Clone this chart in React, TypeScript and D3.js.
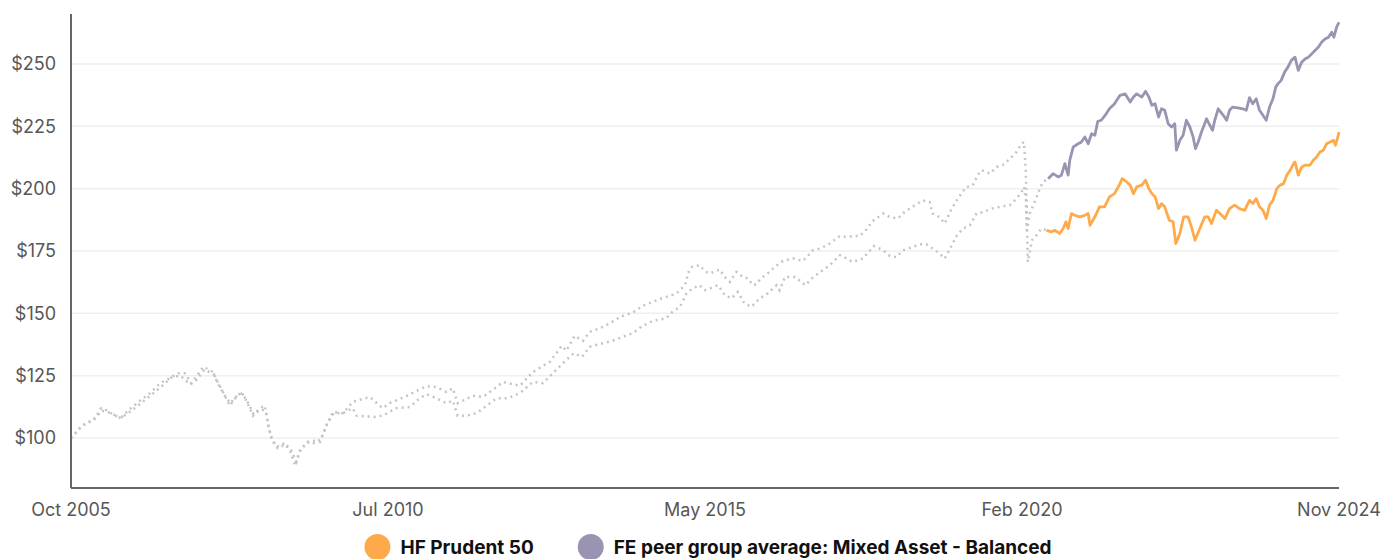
import * as d3 from 'd3';
import { useRef, useEffect } from 'react';

type Pt = [string, number];

// simulated history (grey dotted)
const hfSim: Pt[] = [
  ['2005-10-01', 100], ['2005-11-19', 104], ['2005-12-25', 106], ['2006-02-01', 107], ['2006-03-16', 112],
  ['2006-04-21', 111], ['2006-05-28', 109], ['2006-07-06', 108.4], ['2006-08-10', 111], ['2006-10-15', 115],
  ['2006-12-09', 118], ['2007-02-03', 122], ['2007-03-28', 124], ['2007-05-10', 126], ['2007-06-18', 126],
  ['2007-07-24', 122], ['2007-08-21', 124.6], ['2007-09-28', 128.6], ['2007-11-19', 126.6], ['2007-12-16', 122.6],
  ['2008-01-15', 118.5], ['2008-02-21', 113], ['2008-03-28', 116.5], ['2008-04-25', 118.5], ['2008-05-22', 115],
  ['2008-06-28', 109], ['2008-08-04', 112], ['2008-09-01', 113], ['2008-09-19', 105], ['2008-10-07', 100],
  ['2008-11-04', 96.5], ['2008-12-19', 98], ['2009-01-19', 94.5], ['2009-02-15', 89], ['2009-03-13', 95],
  ['2009-04-19', 98], ['2009-05-22', 99], ['2009-07-01', 98.5], ['2009-08-06', 105], ['2009-09-10', 110.5],
  ['2009-11-04', 110], ['2009-12-28', 114.5], ['2010-04-01', 116.5], ['2010-06-10', 112], ['2010-07-19', 114],
  ['2010-10-19', 116.8], ['2011-01-01', 119.6], ['2011-02-07', 120.8], ['2011-04-01', 120.5], ['2011-05-27', 118.5],
  ['2011-07-01', 120], ['2011-07-28', 114], ['2011-08-25', 115], ['2011-10-19', 117], ['2011-12-13', 116.5],
  ['2012-02-27', 120.5], ['2012-04-01', 122.5], ['2012-07-04', 121], ['2012-09-13', 126.5], ['2012-12-16', 130.6],
  ['2013-02-19', 137], ['2013-03-16', 135], ['2013-05-01', 141], ['2013-06-16', 139], ['2013-07-22', 142.6],
  ['2013-09-16', 144], ['2013-11-10', 146], ['2014-01-06', 148.6], ['2014-03-16', 150.3], ['2014-05-10', 153],
  ['2014-07-04', 154.6], ['2014-08-22', 156], ['2014-10-06', 157], ['2014-11-12', 158], ['2014-12-10', 160],
  ['2015-01-06', 162.6], ['2015-01-12', 166], ['2015-02-04', 168.6], ['2015-03-19', 169.3], ['2015-04-16', 167],
  ['2015-05-13', 166], ['2015-06-19', 167], ['2015-07-07', 167.6], ['2015-08-04', 164.6], ['2015-09-01', 162.6],
  ['2015-10-07', 166.6], ['2015-11-12', 164.6], ['2015-12-09', 164], ['2016-01-06', 161.3], ['2016-01-26', 161.7],
  ['2016-02-18', 164], ['2016-03-27', 166], ['2016-05-04', 168.6], ['2016-06-19', 171], ['2016-08-13', 172],
  ['2016-10-07', 171], ['2016-12-01', 175.3], ['2017-01-10', 176], ['2017-03-04', 178], ['2017-04-28', 181],
  ['2017-06-04', 180.6], ['2017-07-07', 181], ['2017-08-16', 181], ['2017-09-22', 183.7], ['2017-10-25', 187],
  ['2017-12-22', 190], ['2018-01-28', 188.6], ['2018-03-13', 188], ['2018-04-18', 190.6], ['2018-05-29', 192.6],
  ['2018-07-28', 195.3], ['2018-09-04', 194.6], ['2018-09-20', 190], ['2018-10-28', 188.6], ['2018-11-25', 186],
  ['2018-12-12', 188.6], ['2019-01-03', 192], ['2019-02-05', 196], ['2019-03-22', 200.6], ['2019-04-28', 201.3],
  ['2019-05-25', 205.3], ['2019-06-16', 207.4], ['2019-08-01', 206], ['2019-09-07', 208.7], ['2019-10-10', 209.4],
  ['2019-11-19', 212], ['2019-12-25', 214.7], ['2020-01-22', 218], ['2020-02-04', 218.7], ['2020-02-14', 207],
  ['2020-02-19', 192.6], ['2020-02-25', 170.6], ['2020-03-19', 179.3], ['2020-04-13', 181.3], ['2020-05-10', 184],
  ['2020-06-07', 183.3],
];

const peerSim: Pt[] = [
  ['2005-10-01', 100], ['2005-12-01', 105], ['2006-02-10', 108], ['2006-03-20', 111], ['2006-05-10', 110],
  ['2006-07-01', 108], ['2006-08-20', 110.5], ['2006-10-20', 114], ['2006-12-20', 117.5], ['2007-02-15', 121],
  ['2007-04-10', 124.5], ['2007-05-25', 125], ['2007-07-20', 121.5], ['2007-08-25', 123.5], ['2007-10-05', 127.5],
  ['2007-11-25', 125.5], ['2007-12-20', 121.5], ['2008-01-20', 117.5], ['2008-02-25', 114], ['2008-04-01', 117],
  ['2008-04-30', 118], ['2008-06-01', 114], ['2008-07-01', 109.5], ['2008-08-10', 111.5], ['2008-09-05', 111],
  ['2008-09-25', 103.5], ['2008-10-12', 99], ['2008-11-10', 96], ['2008-12-25', 97.5], ['2009-01-25', 95],
  ['2009-02-20', 90.5], ['2009-03-20', 96], ['2009-04-25', 98.5], ['2009-05-28', 98], ['2009-07-05', 99.5],
  ['2009-08-10', 106], ['2009-09-15', 110], ['2009-11-04', 110], ['2009-12-28', 112], ['2010-01-18', 109],
  ['2010-04-28', 108.5], ['2010-06-10', 109], ['2010-08-25', 112], ['2010-11-07', 112.5], ['2011-01-01', 116],
  ['2011-02-07', 117.6], ['2011-04-01', 116], ['2011-05-27', 114], ['2011-07-01', 115], ['2011-07-28', 109],
  ['2011-09-15', 109], ['2011-11-09', 110], ['2012-01-04', 113], ['2012-02-27', 116], ['2012-04-28', 116],
  ['2012-07-04', 118], ['2012-09-13', 122.5], ['2012-11-07', 122], ['2013-01-01', 126], ['2013-03-06', 130.6],
  ['2013-04-25', 134], ['2013-06-12', 132.6], ['2013-07-22', 136.6], ['2013-10-03', 138], ['2013-11-25', 139],
  ['2014-01-20', 140.6], ['2014-03-16', 142], ['2014-05-01', 144.6], ['2014-07-04', 147], ['2014-09-15', 148],
  ['2014-10-20', 150.6], ['2014-12-01', 152.6], ['2015-01-06', 158], ['2015-02-08', 160], ['2015-03-19', 161.3],
  ['2015-04-16', 159.3], ['2015-05-13', 160], ['2015-06-28', 161.3], ['2015-08-04', 157.3], ['2015-09-10', 156],
  ['2015-10-15', 158.6], ['2015-11-20', 154], ['2015-12-28', 152.6], ['2016-02-13', 156], ['2016-03-27', 158],
  ['2016-05-15', 161.3], ['2016-06-01', 159.3], ['2016-06-30', 164.6], ['2016-08-25', 164.6], ['2016-10-20', 161.3],
  ['2016-11-25', 164], ['2017-01-10', 166.6], ['2017-03-04', 169.3], ['2017-04-28', 173.3], ['2017-06-04', 172],
  ['2017-07-07', 170.6], ['2017-09-01', 172], ['2017-11-01', 177], ['2017-12-22', 175.3], ['2018-01-28', 173],
  ['2018-03-05', 172.6], ['2018-04-10', 175.3], ['2018-05-25', 176.4], ['2018-07-10', 177.7], ['2018-08-16', 177.7],
  ['2018-09-20', 176], ['2018-10-28', 174], ['2018-11-25', 172], ['2018-12-25', 176], ['2019-02-01', 181.3],
  ['2019-03-06', 184], ['2019-04-13', 185.3], ['2019-05-19', 190], ['2019-06-25', 190.6], ['2019-08-10', 192],
  ['2019-09-25', 192.7], ['2019-11-19', 193.4], ['2019-12-25', 196], ['2020-01-22', 198.7], ['2020-02-04', 200.7],
  ['2020-02-15', 195.3], ['2020-02-19', 183.3], ['2020-03-07', 190], ['2020-04-03', 194.7], ['2020-05-01', 200],
  ['2020-05-19', 202.7], ['2020-06-16', 204],
];

// live track record (coloured)
const hfLive: Pt[] = [
  ['2020-06-07', 183.3], ['2020-07-04', 182.7], ['2020-07-22', 183.3], ['2020-08-19', 182], ['2020-09-07', 184],
  ['2020-09-22', 186.7], ['2020-10-04', 184], ['2020-10-22', 190], ['2020-11-10', 189.3], ['2020-12-07', 188.7],
  ['2021-01-04', 189.3], ['2021-01-22', 190], ['2021-02-01', 185.3], ['2021-02-28', 188.7], ['2021-03-25', 192.7],
  ['2021-04-22', 192.7], ['2021-05-19', 196.7], ['2021-06-16', 198], ['2021-07-16', 202], ['2021-07-28', 204],
  ['2021-08-22', 202.7], ['2021-09-10', 201.4], ['2021-09-28', 198], ['2021-10-16', 200.7], ['2021-11-13', 201.4],
  ['2021-12-04', 203.4], ['2021-12-22', 200], ['2022-01-07', 198], ['2022-01-25', 196.7], ['2022-02-13', 192],
  ['2022-03-01', 194], ['2022-03-19', 192.7], ['2022-04-13', 187.3], ['2022-05-04', 186.7], ['2022-05-19', 178],
  ['2022-06-10', 182], ['2022-07-01', 188.7], ['2022-07-25', 188.7], ['2022-08-13', 184.7], ['2022-09-01', 179.3],
  ['2022-09-28', 184], ['2022-10-25', 188.7], ['2022-11-13', 188.7], ['2022-12-01', 186], ['2022-12-28', 191.3],
  ['2023-01-16', 190], ['2023-02-13', 188], ['2023-03-10', 192], ['2023-04-07', 193.4], ['2023-05-04', 192],
  ['2023-06-01', 191.3], ['2023-06-28', 195.3], ['2023-07-16', 194], ['2023-08-04', 196], ['2023-08-22', 192.7],
  ['2023-09-10', 191.3], ['2023-09-28', 188], ['2023-10-16', 193.4], ['2023-11-04', 195.3], ['2023-11-25', 200],
  ['2023-12-13', 201.4], ['2024-01-01', 202], ['2024-01-19', 205.4], ['2024-02-07', 207.4], ['2024-02-25', 210],
  ['2024-03-04', 210.7], ['2024-03-22', 205.4], ['2024-04-10', 208.7], ['2024-04-28', 209.4], ['2024-05-25', 209.4],
  ['2024-06-13', 211.4], ['2024-07-01', 212.7], ['2024-07-19', 214.7], ['2024-08-07', 215.4], ['2024-08-25', 218],
  ['2024-09-13', 218.7], ['2024-10-01', 219.4], ['2024-10-13', 217.4], ['2024-10-28', 221.4], ['2024-11-01', 222.7],
];

const peerLive: Pt[] = [
  ['2020-06-16', 204], ['2020-07-13', 206], ['2020-08-10', 204.7], ['2020-08-28', 205.4], ['2020-09-16', 210],
  ['2020-10-04', 205.4], ['2020-10-13', 211.4], ['2020-11-01', 216.7], ['2020-11-28', 218], ['2020-12-16', 218.7],
  ['2021-01-04', 220.7], ['2021-01-22', 218], ['2021-02-10', 222], ['2021-02-28', 221.4], ['2021-03-16', 227],
  ['2021-04-04', 227.4], ['2021-05-01', 230], ['2021-05-19', 232], ['2021-06-16', 234], ['2021-07-16', 237.4],
  ['2021-08-13', 238], ['2021-09-10', 234.7], ['2021-09-28', 236.7], ['2021-10-16', 238], ['2021-11-13', 236.7],
  ['2021-12-04', 239], ['2021-12-22', 236.7], ['2022-01-07', 233.4], ['2022-01-25', 234], ['2022-02-13', 228.7],
  ['2022-03-01', 232], ['2022-03-19', 231.4], ['2022-04-07', 226], ['2022-04-25', 224.7], ['2022-05-13', 226],
  ['2022-05-22', 215.4], ['2022-06-10', 219.4], ['2022-06-28', 221.4], ['2022-07-16', 227.4], ['2022-08-04', 224.7],
  ['2022-08-22', 220.7], ['2022-09-04', 216], ['2022-09-19', 218.7], ['2022-10-07', 222.7], ['2022-11-04', 228],
  ['2022-11-22', 225.4], ['2022-12-07', 223.4], ['2022-12-19', 227.4], ['2023-01-07', 232], ['2023-02-04', 229.4],
  ['2023-02-22', 227.4], ['2023-03-10', 231.4], ['2023-03-28', 232.7], ['2023-04-25', 232.4], ['2023-05-22', 232],
  ['2023-06-10', 231.4], ['2023-06-28', 236.5], ['2023-07-16', 234], ['2023-08-04', 236], ['2023-08-22', 231.4],
  ['2023-09-10', 229.4], ['2023-09-28', 227.4], ['2023-10-16', 232.7], ['2023-11-04', 236], ['2023-11-19', 240.7],
  ['2023-12-01', 242], ['2023-12-19', 243.4], ['2024-01-07', 246.7], ['2024-01-25', 248.7], ['2024-02-13', 251.4],
  ['2024-03-04', 252.7], ['2024-03-22', 247.4], ['2024-04-10', 250.7], ['2024-04-28', 252], ['2024-05-16', 252.7],
  ['2024-06-04', 254], ['2024-06-22', 255.4], ['2024-07-10', 256.7], ['2024-07-28', 258.7], ['2024-08-16', 260],
  ['2024-09-04', 260.7], ['2024-09-22', 262.7], ['2024-10-04', 260.7], ['2024-10-19', 264.7], ['2024-11-01', 266.7],
];

const yTicks = [100, 125, 150, 175, 200, 225, 250];
const xTickLabels = ['Oct 2005', 'Jul 2010', 'May 2015', 'Feb 2020', 'Nov 2024'];
const legendItems = [
  { label: 'HF Prudent 50', color: '#FFAA4A' },
  { label: 'FE peer group average: Mixed Asset - Balanced', color: '#9A94B2' },
];

const W = 1399;
const H = 559;
const FONT = 'Inter, "Noto Sans", sans-serif';

export default function App() {
  const svgRef = useRef<SVGSVGElement>(null);

  useEffect(() => {
    if (!svgRef.current) return;
    const svg = d3.select(svgRef.current);
    svg.selectAll('*').remove();

    const margin = { top: 14, right: 60, bottom: 71, left: 71 };
    const width = W - margin.left - margin.right;
    const height = H - margin.top - margin.bottom;
    const parse = d3.timeParse('%Y-%m-%d');

    const x = d3.scaleTime()
      .domain([parse('2005-10-01')!, parse('2024-11-01')!])
      .range([0, width]);
    const y = d3.scaleLinear().domain([80, 270]).range([height, 0]);

    const g = svg.append('g').attr('transform', `translate(${margin.left},${margin.top})`);

    // grid
    g.selectAll('line.grid')
      .data(yTicks)
      .join('line')
      .attr('class', 'grid')
      .attr('x1', 0).attr('x2', width)
      .attr('y1', (d) => y(d)).attr('y2', (d) => y(d))
      .attr('stroke', '#efefef').attr('stroke-width', 1.5);

    // y labels
    g.selectAll('text.ylab')
      .data(yTicks)
      .join('text')
      .attr('class', 'ylab')
      .attr('x', -15).attr('y', (d) => y(d))
      .attr('dy', '0.35em')
      .attr('text-anchor', 'end')
      .attr('font-family', FONT).attr('font-size', 18).attr('fill', '#575757')
      .text((d) => `$${d}`);

    // x labels, evenly spread over the domain
    const [d0, d1] = x.domain();
    const xTicks = xTickLabels.map((label, i) => ({
      label,
      date: new Date(+d0 + (i * (+d1 - +d0)) / (xTickLabels.length - 1)),
    }));
    g.selectAll('text.xlab')
      .data(xTicks)
      .join('text')
      .attr('class', 'xlab')
      .attr('x', (d) => x(d.date)).attr('y', height + 28)
      .attr('text-anchor', 'middle')
      .attr('font-family', FONT).attr('font-size', 18).attr('fill', '#575757')
      .text((d) => d.label);

    const line = d3.line<Pt>()
      .x((d) => x(parse(d[0])!))
      .y((d) => y(d[1]));

    // simulated (dotted grey)
    [hfSim, peerSim].forEach((s) => {
      g.append('path')
        .datum(s)
        .attr('fill', 'none')
        .attr('stroke', '#c4c4c4')
        .attr('stroke-width', 2.5)
        .attr('stroke-dasharray', '2,4')
        .attr('d', line);
    });

    // live
    [[peerLive, legendItems[1].color], [hfLive, legendItems[0].color]].forEach(([s, c]) => {
      g.append('path')
        .datum(s as Pt[])
        .attr('fill', 'none')
        .attr('stroke', c as string)
        .attr('stroke-width', 2.8)
        .attr('stroke-linejoin', 'round')
        .attr('d', line);
    });

    // axes lines
    g.append('line')
      .attr('x1', 0).attr('x2', 0).attr('y1', 0).attr('y2', height)
      .attr('stroke', '#666').attr('stroke-width', 2);
    g.append('line')
      .attr('x1', 0).attr('x2', width).attr('y1', height).attr('y2', height)
      .attr('stroke', '#666').attr('stroke-width', 2);

    // legend
    const r = 13;
    const legend = svg.append('g');
    let cursor = 0;
    legendItems.forEach((item, i) => {
      const it = legend.append('g').attr('transform', `translate(${cursor},0)`);
      it.append('circle').attr('cx', r).attr('cy', 0).attr('r', r).attr('fill', item.color);
      const t = it.append('text')
        .attr('x', 2 * r + 10).attr('y', 0).attr('dy', '0.35em')
        .attr('font-family', FONT).attr('font-size', 19).attr('font-weight', 700)
        .attr('fill', '#111')
        .text(item.label);
      const tw = (t.node() as SVGTextElement).getComputedTextLength();
      cursor += 2 * r + 10 + tw + (i < legendItems.length - 1 ? 44 : 0);
    });
    const cx = margin.left + width / 2 + 3;
    legend.attr('transform', `translate(${cx - cursor / 2},${H - 12})`);
  }, []);

  return (
    <svg
      ref={svgRef}
      width={W}
      height={H}
      style={{ position: 'absolute', left: 0, top: 0, background: '#fff' }}
    />
  );
}
